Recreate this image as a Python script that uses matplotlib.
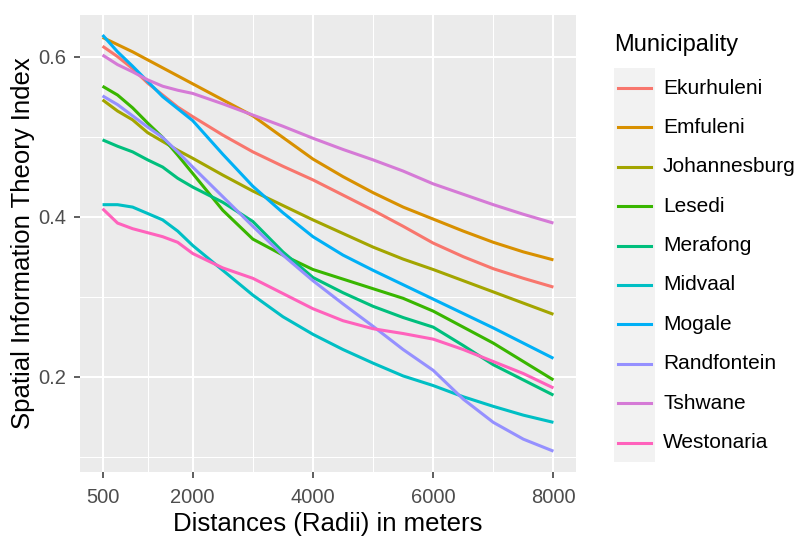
import matplotlib
matplotlib.use("Agg")
import matplotlib.pyplot as plt
from matplotlib.lines import Line2D
from matplotlib.patches import Rectangle

plt.rcParams['font.family'] = ['Liberation Sans', 'DejaVu Sans']

distances = [500, 750, 1000, 1250, 1500, 1750, 2000, 2500, 3000, 3500,
             4000, 4500, 5000, 5500, 6000, 6500, 7000, 7500, 8000]

ekurhuleni = [0.613, 0.600, 0.585, 0.567, 0.552, 0.537, 0.525, 0.502, 0.481, 0.463,
              0.446, 0.427, 0.408, 0.388, 0.367, 0.350, 0.335, 0.323, 0.312]
emfuleni = [0.624, 0.615, 0.606, 0.596, 0.586, 0.576, 0.566, 0.546, 0.526, 0.499,
            0.472, 0.450, 0.430, 0.412, 0.397, 0.382, 0.368, 0.356, 0.346]
johannesburg = [0.546, 0.532, 0.521, 0.505, 0.494, 0.483, 0.473, 0.452, 0.432, 0.414,
                0.396, 0.379, 0.362, 0.347, 0.334, 0.320, 0.306, 0.292, 0.278]
lesedi = [0.563, 0.552, 0.536, 0.517, 0.499, 0.477, 0.454, 0.408, 0.372, 0.352,
          0.334, 0.322, 0.310, 0.298, 0.282, 0.262, 0.242, 0.219, 0.196]
merafong = [0.496, 0.488, 0.481, 0.471, 0.462, 0.448, 0.437, 0.418, 0.394, 0.356,
            0.324, 0.305, 0.288, 0.274, 0.262, 0.239, 0.215, 0.196, 0.177]
midvaal = [0.415, 0.415, 0.412, 0.404, 0.396, 0.382, 0.364, 0.333, 0.302, 0.275,
           0.253, 0.234, 0.217, 0.201, 0.189, 0.175, 0.163, 0.152, 0.143]
mogale = [0.627, 0.606, 0.588, 0.569, 0.550, 0.535, 0.520, 0.478, 0.438, 0.405,
          0.375, 0.352, 0.333, 0.315, 0.297, 0.279, 0.261, 0.242, 0.223]
randfontein = [0.551, 0.540, 0.526, 0.512, 0.499, 0.481, 0.462, 0.425, 0.388, 0.352,
               0.320, 0.291, 0.263, 0.234, 0.208, 0.172, 0.143, 0.122, 0.107]
tshwane = [0.602, 0.590, 0.581, 0.571, 0.563, 0.558, 0.554, 0.541, 0.527, 0.513,
           0.498, 0.484, 0.471, 0.457, 0.441, 0.428, 0.415, 0.403, 0.392]
westonaria = [0.410, 0.392, 0.385, 0.380, 0.375, 0.368, 0.354, 0.336, 0.323, 0.304,
              0.285, 0.270, 0.260, 0.254, 0.247, 0.234, 0.219, 0.204, 0.186]

municipalities = ["Ekurhuleni", "Emfuleni", "Johannesburg", "Lesedi", "Merafong",
                  "Midvaal", "Mogale", "Randfontein", "Tshwane", "Westonaria"]
series = [ekurhuleni, emfuleni, johannesburg, lesedi, merafong,
          midvaal, mogale, randfontein, tshwane, westonaria]
colors = ["#F8766D", "#D89000", "#A3A500", "#39B600", "#00BF7D",
          "#00BFC4", "#00B0F6", "#9590FF", "#D57AD6", "#FF62BC"]

x_major = [500, 2000, 4000, 6000, 8000]
x_minor = [1250, 3000, 5000, 7000]
y_major = [0.2, 0.4, 0.6]
y_minor = [0.1, 0.3, 0.5]

W, H = 800, 536
fig = plt.figure(figsize=(W / 100, H / 100), dpi=100)
left, right, top, bottom = 80, 576, 15, 472
ax = fig.add_axes([left / W, 1 - bottom / H, (right - left) / W, (bottom - top) / H])
ax.set_facecolor("#EBEBEB")
for s in ax.spines.values():
    s.set_visible(False)

ax.set_xlim(125, 8375)
ax.set_ylim(0.081, 0.652)
ax.set_xticks(x_major)
ax.set_xticks(x_minor, minor=True)
ax.set_yticks(y_major)
ax.set_yticks(y_minor, minor=True)
ax.set_xticklabels([str(v) for v in x_major])
ax.set_yticklabels(["%.1f" % v for v in y_major])
ax.grid(which="major", color="white", linewidth=1.5)
ax.grid(which="minor", color="white", linewidth=0.75)
ax.set_axisbelow(True)
ax.tick_params(which="major", length=4, width=1.1, color="#333333",
               labelcolor="#4D4D4D", labelsize=14.5)
ax.tick_params(axis="x", which="major", pad=7.5)
ax.tick_params(axis="y", which="major", pad=6)
ax.tick_params(which="minor", length=0)

for name, vals, c in zip(municipalities, series, colors):
    ax.plot(distances, vals, color=c, linewidth=2.2, solid_capstyle="butt", label=name)

ax.set_xlabel("Distances (Radii) in meters", fontsize=18.5, color="black", labelpad=3.5)
ax.set_ylabel("Spatial Information Theory Index", fontsize=18.5, color="black", labelpad=2)

# legend (manual, ggplot-like)
fig.text(614 / W, 1 - 45 / H, "Municipality", fontsize=17, ha="left", va="center")
key_x0, key_x1 = 614, 655
row0, dy = 88, 39.4
fig.patches.append(Rectangle((key_x0 / W, 1 - (row0 + 9.5 * dy) / H),
                             (key_x1 - key_x0) / W, (10 * dy) / H,
                             transform=fig.transFigure, facecolor="#F2F2F2",
                             edgecolor="none", zorder=0))
for i, (name, c) in enumerate(zip(municipalities, colors)):
    yc = 1 - (row0 + i * dy) / H
    fig.lines.append(Line2D([(key_x0 + 4) / W, (key_x1 - 4) / W], [yc, yc],
                            transform=fig.transFigure, color=c, linewidth=2.2))
    fig.text(663 / W, yc, name, fontsize=15, ha="left", va="center")

fig.savefig("out.png", dpi=100)
